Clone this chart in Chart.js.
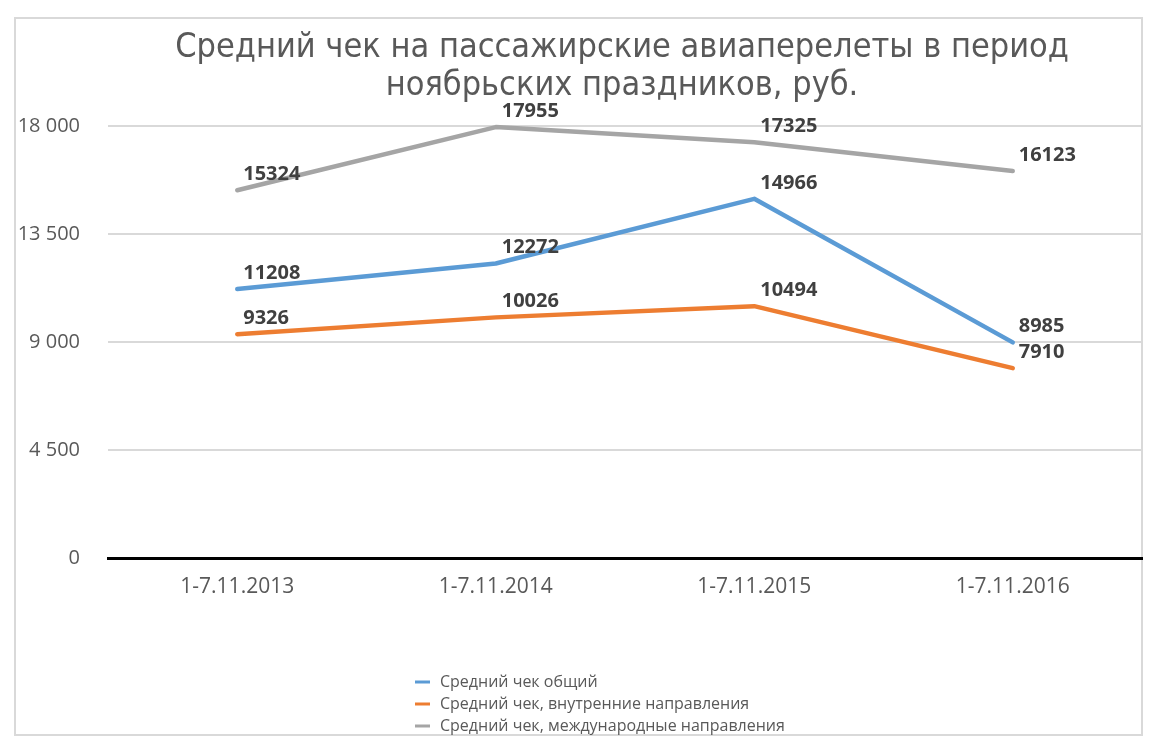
<!DOCTYPE html>
<html>
<head>
<meta charset="utf-8">
<script src="https://cdn.jsdelivr.net/npm/chart.js@4/dist/chart.umd.min.js"></script>
<style>
  body { margin: 0; background: #fff; }
  canvas { display: block; }
</style>
</head>
<body>
<canvas id="grafico" width="1160" height="748"></canvas>
<script>
const categories = ["1-7.11.2013", "1-7.11.2014", "1-7.11.2015", "1-7.11.2016"];
const avgTotal = [11208, 12272, 14966, 8985];
const avgDomestic = [9326, 10026, 10494, 7910];
const avgInternational = [15324, 17955, 17325, 16123];
const yTicks = [0, 4500, 9000, 13500, 18000];
const seriesNames = [
  "Средний чек общий",
  "Средний чек, внутренние направления",
  "Средний чек, международные направления",
];
const titleLines = [
  "Средний чек на пассажирские авиаперелеты в период",
  "ноябрьских праздников, руб.",
];

const colors = ["#5B9BD5", "#ED7D31", "#A5A5A5"];

function fmt(v) {
  return String(v).replace(/\B(?=(\d{3})+(?!\d))/g, " ");
}

// frame + title
const frame = {
  id: "frame",
  beforeDraw(chart) {
    const ctx = chart.ctx;
    ctx.save();
    ctx.fillStyle = "#fff";
    ctx.fillRect(0, 0, chart.width, chart.height);
    ctx.strokeStyle = "#D9D9D9";
    ctx.lineWidth = 2;
    ctx.strokeRect(15, 18, 1127, 717);
    ctx.fillStyle = "#595959";
    ctx.font = "34px 'DejaVu Sans Condensed'";
    ctx.textAlign = "center";
    ctx.textBaseline = "alphabetic";
    ctx.fillText(titleLines[0], 622, 57);
    ctx.fillText(titleLines[1], 622, 95);
    ctx.restore();
  },
};

// value labels above-right of each point
const valueLabels = {
  id: "valueLabels",
  afterDatasetsDraw(chart) {
    const ctx = chart.ctx;
    ctx.save();
    ctx.fillStyle = "#404040";
    ctx.font = "bold 20px 'Open Sans'";
    ctx.textAlign = "left";
    ctx.textBaseline = "middle";
    chart.data.datasets.forEach((ds, i) => {
      chart.getDatasetMeta(i).data.forEach((pt, j) => {
        ctx.fillText(String(ds.data[j]), pt.x + 6, pt.y - 16);
      });
    });
    ctx.restore();
  },
};

// vertical legend at the bottom
const legendList = {
  id: "legendList",
  afterDraw(chart) {
    const ctx = chart.ctx;
    ctx.save();
    ctx.font = "16px 'Open Sans'";
    ctx.textAlign = "left";
    ctx.textBaseline = "middle";
    chart.data.datasets.forEach((ds, i) => {
      const y = 682 + i * 22;
      ctx.strokeStyle = ds.borderColor;
      ctx.lineWidth = 3;
      ctx.beginPath();
      ctx.moveTo(415, y);
      ctx.lineTo(430, y);
      ctx.stroke();
      ctx.fillStyle = "#595959";
      ctx.fillText(ds.label, 440, y);
    });
    ctx.restore();
  },
};

const series = [avgTotal, avgDomestic, avgInternational];

new Chart(document.getElementById("grafico").getContext("2d"), {
  type: "line",
  data: {
    labels: categories,
    datasets: series.map((d, i) => ({
      label: seriesNames[i],
      data: d,
      borderColor: colors[i],
      backgroundColor: colors[i],
      borderWidth: 4.5,
      borderCapStyle: "round",
      borderJoinStyle: "round",
      pointRadius: 0,
      tension: 0,
      clip: false,
    })),
  },
  plugins: [frame, valueLabels, legendList],
  options: {
    responsive: false,
    animation: false,
    devicePixelRatio: 1,
    layout: { padding: { left: 15, right: 18, top: 126, bottom: 0 } },
    plugins: {
      legend: { display: false },
      title: { display: false },
      tooltip: { enabled: false },
    },
    scales: {
      x: {
        offset: true,
        grid: { display: false },
        border: { color: "#000", width: 3 },
        ticks: {
          color: "#595959",
          font: { family: "Open Sans", size: 21 },
          padding: 8,
          maxRotation: 0,
        },
        afterFit(scale) {
          scale.height = 190;
        },
      },
      y: {
        min: 0,
        max: 18000,
        afterBuildTicks(scale) {
          scale.ticks = yTicks.map((v) => ({ value: v }));
        },
        grid: { color: "#D9D9D9", lineWidth: 2, drawTicks: false },
        border: { display: false },
        ticks: {
          color: "#595959",
          font: { family: "Open Sans", size: 20 },
          padding: 28,
          callback: (v) => fmt(v),
        },
        afterFit(scale) {
          scale.width = 93;
        },
      },
    },
  },
});
</script>
</body>
</html>
